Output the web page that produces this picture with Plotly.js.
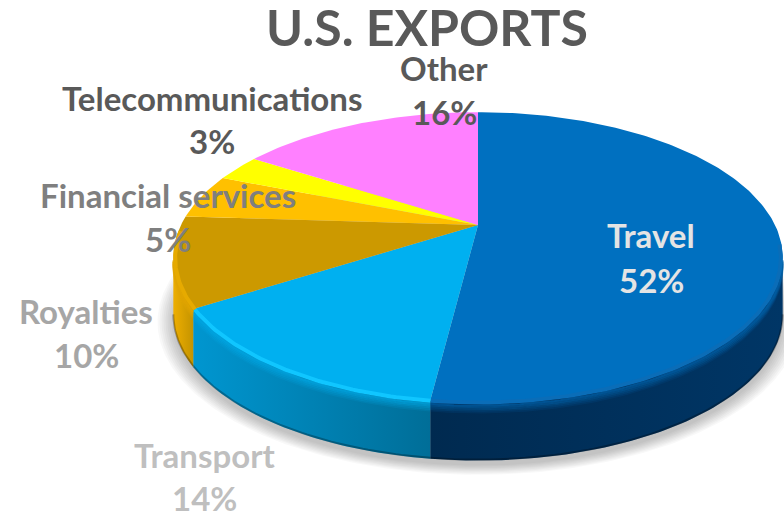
<!DOCTYPE html>
<html><head><meta charset="utf-8">
<script src="https://cdn.plot.ly/plotly-3.0.1.min.js"></script>
<style>html,body{margin:0;padding:0;background:#fff}#c{width:784px;height:514px}</style>
</head><body><div id="c"></div>
<script>
const categories = ["Travel","Transport","Royalties","Financial services","Telecommunications","Other"];
const shares = [52,14,10,5,3,16];
const faceColors = ["#0070C0","#00B0F0","#CC9900","#FFC000","#FFFF00","#FF80FF"];
const wallFrom = ["#003666","#0096D0","#EEAE00","#FFC000","#FFFF00","#FF80FF"];
const wallTo = ["#002A50","#006E98","#C49400","#FFC000","#FFFF00","#FF80FF"];
const rimColors = ["#0A6DB8","#10C6FF","#E6AA00","#FFC000","#FFFF00","#FF80FF"];
const bandRgb = ["0,95,165","0,165,225","225,165,0","255,192,0","255,255,0","255,128,255"];
const labelColors = ["#E4E4E4","#BFBFBF","#A6A6A6","#7F7F7F","#595959","#595959"];
const labelX = [651,204,86,168,212,444];
const labelY1 = [235,455,311,195,98,68];
const labelY2 = [280,498,355,239,141,112];

// tilted-disc projection
const cx=478, cy=225, k=0.223, a=297, b=138, depth=58;
function P(f,scale,dy){
  const t=2*Math.PI*f, u=Math.sin(t), v=Math.cos(t), w=1+k*v, s=scale||1;
  return [cx+s*a*u/w, cy-s*b*v/w+(dy||0)];
}
function arc(f0,f1,scale,dy){
  const n=Math.max(2,Math.ceil((f1-f0)*400)), pts=[];
  for(let i=0;i<=n;i++) pts.push(P(f0+(f1-f0)*i/n,scale,dy));
  return pts;
}
const xs=p=>p.map(q=>q[0]), ys=p=>p.map(q=>q[1]);
const traces=[];
function poly(p,color,extra){
  traces.push(Object.assign({type:'scatter',mode:'lines',x:xs(p),y:ys(p),fill:'toself',fillcolor:color,line:{width:0},hoverinfo:'skip',showlegend:false},extra||{}));
}
function stroke(p,color,width){
  traces.push({type:'scatter',mode:'lines',x:xs(p),y:ys(p),line:{color:color,width:width},hoverinfo:'skip',showlegend:false});
}
// soft shadow under the disc
for(let i=8;i>=0;i--){
  poly(arc(0,1,1+i*0.0065,depth+5),'rgba(0,0,0,0.028)');
}
const total=shares.reduce((s,v)=>s+v,0);
const edges=[0]; shares.forEach(v=>edges.push(edges[edges.length-1]+v/total));
const visA=Math.acos(-k)/(2*Math.PI), visB=1-visA;
// walls
shares.forEach((v,i)=>{
  const f0=Math.max(edges[i],visA), f1=Math.min(edges[i+1],visB);
  if(f1<=f0) return;
  const pts=arc(f0,f1).concat(arc(f0,f1,1,depth).reverse());
  poly(pts,wallFrom[i],{fillgradient:{type:'horizontal',colorscale:(i===0?[[0,wallTo[0]],[1,wallFrom[0]]]:[[0,wallFrom[i]],[1,wallTo[i]]])}});
  stroke(arc(f0,f1,1,depth-1),'rgba(0,0,0,0.28)',2);
});
// top faces
shares.forEach((v,i)=>{
  const pts=[[cx,cy]].concat(arc(edges[i],edges[i+1])); pts.push([cx,cy]);
  poly(pts,faceColors[i]);
});
// bevel along the front rim: a soft band below the edge, a highlight on it
shares.forEach((v,i)=>{
  const f0=Math.max(edges[i],visA-0.015), f1=Math.min(edges[i+1],visB+0.03);
  if(f1<=f0) return;
  if(edges[i+1]>visA && edges[i]<visB){
    for(let j=0;j<5;j++){
      stroke(arc(Math.max(edges[i],visA),Math.min(edges[i+1],visB),1,3+j*1.7),'rgba('+bandRgb[i]+','+(0.75-0.15*j)+')',2);
    }
  }
  stroke(arc(f0,f1,0.994,1),rimColors[i],4);
});
const ann=[];
const fam='Lato, Carlito, sans-serif';
categories.forEach((c,i)=>{
  const f={family:fam,size:33,color:labelColors[i],weight:700};
  ann.push({x:labelX[i],y:labelY1[i],xref:'x',yref:'y',text:c,showarrow:false,font:f,xanchor:'center',yanchor:'middle'});
  ann.push({x:labelX[i],y:labelY2[i],xref:'x',yref:'y',text:shares[i]+'%',showarrow:false,font:f,xanchor:'center',yanchor:'middle'});
});
const layout={
  width:784,height:514,margin:{l:0,r:0,t:0,b:0},paper_bgcolor:'#fff',plot_bgcolor:'#fff',showlegend:false,
  title:{text:'U.S. EXPORTS',font:{family:fam,size:50,color:'#595959',weight:700},x:427/784,y:1-28/514,xanchor:'center',yanchor:'middle'},
  xaxis:{range:[0,784],visible:false,fixedrange:true},
  yaxis:{range:[514,0],visible:false,fixedrange:true},
  annotations:ann
};
Plotly.newPlot('c',traces,layout,{displayModeBar:false,staticPlot:true});
</script></body></html>
